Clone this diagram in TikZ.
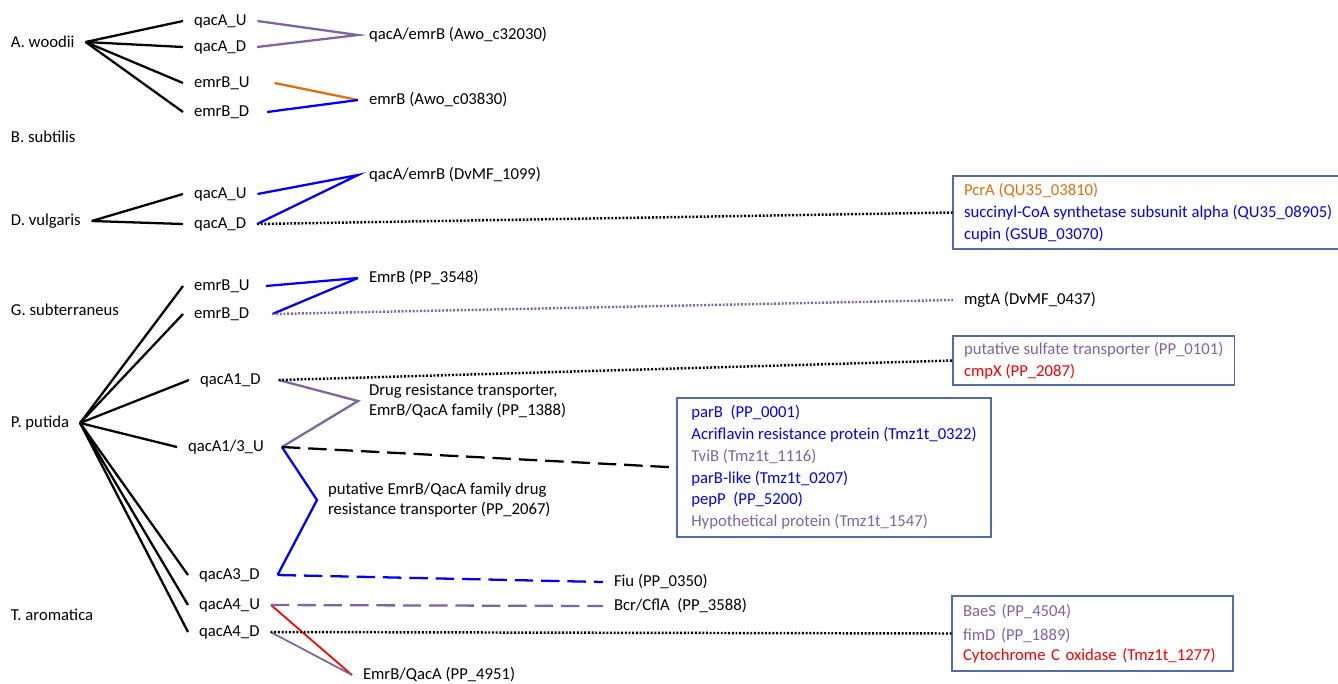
\documentclass[tikz,border=0pt]{standalone}
\usepackage{fontspec}
\setmainfont{Carlito}
\usepackage{tikz}

\definecolor{lilac}{RGB}{128,100,162}
\definecolor{tangerine}{RGB}{228,108,10}
\definecolor{frameblue}{RGB}{79,109,170}

\begin{document}
\begin{tikzpicture}[x=0.2mm, y=-0.2mm,
    every node/.style={font=\fontsize{9.5}{12.4}\selectfont},
    lbl/.style={anchor=west, inner xsep=2.2mm, inner ysep=0pt, outer sep=0pt},
    infobox/.style={lbl, draw=frameblue, line width=0.8pt, align=left, inner ysep=2pt},
    tree/.style={line width=1.3pt},
    link/.style={line width=1.3pt},
    dotline/.style={line width=1.4pt, dash pattern=on 1.1pt off 1pt},
    dashline/.style={line width=1.3pt, dash pattern=on 10.5pt off 4.5pt}]

    \useasboundingbox (0,0) rectangle (1338,683);

    % Organismos
    \node[lbl] (aw) at (0,42) {A. woodii};
    \node[lbl] (bs) at (0,137) {B. subtilis};
    \node[lbl] (dv) at (0,221) {D. vulgaris};
    \node[lbl] (gs) at (0,310) {G. subterraneus};
    \node[lbl] (pp) at (0,423) {P. putida};
    \node[lbl] (ta) at (0,615) {T. aromatica};

    % Genes
    \node[lbl] (awqU) at (183,21) {qacA\_U};
    \node[lbl] (awqD) at (183,47) {qacA\_D};
    \node[lbl] (aweU) at (183,83) {emrB\_U};
    \node[lbl] (aweD) at (183,112) {emrB\_D};
    \node[lbl] (dvqU) at (183,194) {qacA\_U};
    \node[lbl] (dvqD) at (183,224) {qacA\_D};
    \node[lbl] (gseU) at (183,286) {emrB\_U};
    \node[lbl] (gseD) at (183,314) {emrB\_D};
    \node[lbl] (ppq1D) at (189,380) {qacA1\_D};
    \node[lbl] (ppq13U) at (177,447) {qacA1/3\_U};
    \node[lbl] (ppq3D) at (188,575) {qacA3\_D};
    \node[lbl] (ppq4U) at (188,605) {qacA4\_U};
    \node[lbl] (ppq4D) at (188,632) {qacA4\_D};

    % Alvos
    \node[lbl] (c32030) at (358,35) {qacA/emrB (Awo\_c32030)};
    \node[lbl] (c03830) at (358,100) {emrB (Awo\_c03830)};
    \node[lbl] (dvmf1099) at (358,175) {qacA/emrB (DvMF\_1099)};
    \node[lbl] (pp3548) at (358,278) {EmrB (PP\_3548)};
    \node[lbl, align=left] (pp1388) at (358,401) {Drug resistance transporter,\\[-1pt]EmrB/QacA family (PP\_1388)};
    \node[lbl, align=left] (pp2067) at (317,500) {putative EmrB/QacA family drug\\[-1.5pt]resistance transporter (PP\_2067)};
    \node[lbl] (pp0350) at (603,582) {Fiu (PP\_0350)};
    \node[lbl] (pp3588) at (603,606) {Bcr/CflA\ \ (PP\_3588)};
    \node[lbl] (pp4951) at (352,675) {EmrB/QacA (PP\_4951)};
    \node[lbl] (dvmf0437) at (953,300) {mgtA (DvMF\_0437)};

    % Caixas
    \node[infobox, minimum width=76.6mm, minimum height=14.6mm] (boxA) at (953,212.5)
        {\textcolor{tangerine}{PcrA (QU35\_03810)}\\
         \textcolor{blue}{succinyl-CoA synthetase subsunit alpha (QU35\_08905)}\\
         \textcolor{blue}{cupin (GSUB\_03070)}};
    \node[infobox, minimum width=56.2mm, minimum height=9.8mm] (boxB) at (953,360.5)
        {\textcolor{lilac}{putative sulfate transporter (PP\_0101)}\\
         \textcolor{red}{cmpX (PP\_2087)}};
    \node[infobox, minimum width=62.8mm, minimum height=27.8mm] (boxC) at (677,467.5)
        {\textcolor{blue}{parB\ \ (PP\_0001)}\\
         \textcolor{blue}{Acriflavin resistance protein (Tmz1t\_0322)}\\
         \textcolor{lilac}{TviB (Tmz1t\_1116)}\\
         \textcolor{blue}{parB-like (Tmz1t\_0207)}\\
         \textcolor{blue}{pepP\ \ (PP\_5200)}\\
         \textcolor{lilac}{Hypothetical protein (Tmz1t\_1547)}};
    \node[infobox, text width=51.8mm, minimum height=15mm] (boxD) at (952,633.5)
        {\textcolor{lilac}{BaeS (PP\_4504)}\\[1.2pt]
         \textcolor{lilac}{fimD (PP\_1889)}\\[-1.1pt]
         \textcolor{red}{Cytochrome C oxidase (Tmz1t\_1277)}};

    % Arvore
    \foreach \g in {awqU,awqD,aweU,aweD}
        \draw[tree] (aw.east) -- (\g.west);
    \foreach \g in {dvqU,dvqD}
        \draw[tree] (dv.east) -- (\g.west);
    \foreach \g in {gseU,gseD,ppq1D,ppq13U,ppq3D,ppq4U,ppq4D}
        \draw[tree] (pp.east) -- (\g.west);

    % Ligacoes
    \draw[link, lilac] (awqU.east) -- (c32030.west) -- (awqD.east);
    \draw[link, tangerine] ([xshift=8pt]aweU.east) -- (c03830.west);
    \draw[link, blue] ([xshift=4pt]aweD.east) -- (c03830.west);
    \draw[link, blue] (dvqU.east) -- (dvmf1099.west) -- (dvqD.east);
    \draw[link, blue] ([xshift=3pt]gseU.east) -- (pp3548.west);
    \draw[link, blue] ([xshift=7pt]gseD.east) -- (pp3548.west);
    \draw[link, lilac] ([xshift=4pt]ppq1D.east) -- (pp1388.west) -- ([xshift=4pt]ppq13U.east);
    \draw[link, blue] ([xshift=4pt]ppq13U.east) -- (pp2067.west) -- ([xshift=4pt]ppq3D.east);
    \draw[link, red, line width=1pt] (ppq4U.east) -- (pp4951.west);
    \draw[link, lilac, line width=1pt] (ppq4D.east) -- (pp4951.west);

    % Pontilhadas e tracejadas
    \draw[dotline] (dvqD.east) -- (boxA.west);
    \draw[dotline, lilac] ([xshift=7pt]gseD.east) -- (dvmf0437.west);
    \draw[dotline] ([xshift=4pt]ppq1D.east) -- (boxB.west);
    \draw[dashline] ([xshift=4pt]ppq13U.east) -- (boxC.west);
    \draw[dashline, blue] ([xshift=4pt]ppq3D.east) -- (pp0350.west);
    \draw[dashline, lilac] (ppq4U.east) -- (pp3588.west);
    \draw[dotline] (ppq4D.east) -- (boxD.west);
\end{tikzpicture}
\end{document}
